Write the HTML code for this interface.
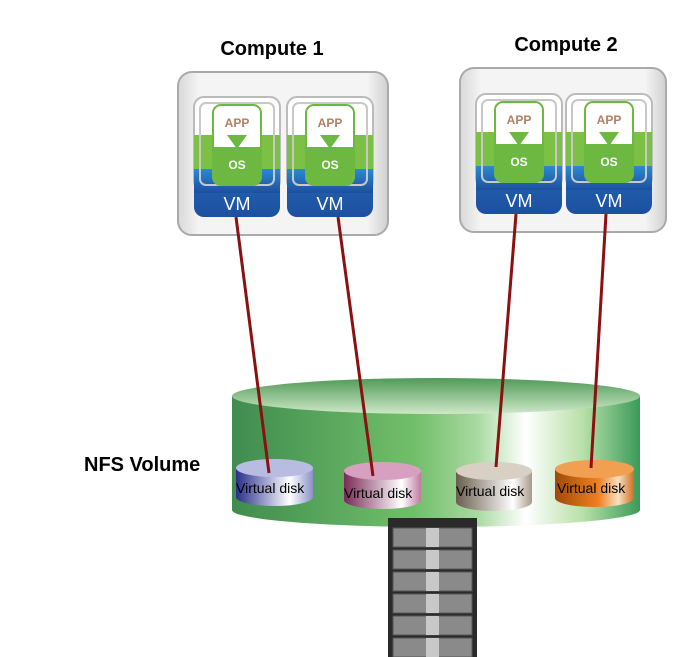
<!DOCTYPE html>
<html><head><style>body{margin:0;background:#fff}svg{display:block}</style></head><body>
<svg width="682" height="657" viewBox="0 0 682 657" xmlns="http://www.w3.org/2000/svg" font-family="Liberation Sans, sans-serif">
<defs>
<linearGradient id="box" x1="0" y1="0" x2="1" y2="0"><stop offset="0" stop-color="#d8d8d8"/><stop offset=".1" stop-color="#f4f4f4"/><stop offset=".9" stop-color="#f4f4f4"/><stop offset="1" stop-color="#d0d0d0"/></linearGradient>
<linearGradient id="vm" x1="0" y1="0" x2="0" y2="1"><stop offset="0" stop-color="#2a8ad0"/><stop offset="1" stop-color="#1d4fa0"/></linearGradient>
<linearGradient id="nfs" x1="0" y1="0" x2="1" y2="0"><stop offset="0" stop-color="#3f8c4f"/><stop offset=".45" stop-color="#72bf6a"/><stop offset=".6" stop-color="#a8d9a0"/><stop offset=".72" stop-color="#ffffff"/><stop offset=".86" stop-color="#b8e0a8"/><stop offset="1" stop-color="#3a9a5a"/></linearGradient>
<linearGradient id="nfstop" x1="0" y1="0" x2="0" y2="1"><stop offset="0" stop-color="#4f9a58"/><stop offset="1" stop-color="#cfe8c8"/></linearGradient>
<linearGradient id="d1" x1="0" y1="0" x2="1" y2="0"><stop offset="0" stop-color="#2a2f8a"/><stop offset=".7" stop-color="#ffffff"/><stop offset="1" stop-color="#8a90c8"/></linearGradient>
<linearGradient id="d2" x1="0" y1="0" x2="1" y2="0"><stop offset="0" stop-color="#7a2a58"/><stop offset=".75" stop-color="#ffffff"/><stop offset="1" stop-color="#c07aa0"/></linearGradient>
<linearGradient id="d3" x1="0" y1="0" x2="1" y2="0"><stop offset="0" stop-color="#6a5e4e"/><stop offset=".75" stop-color="#ffffff"/><stop offset="1" stop-color="#a89a88"/></linearGradient>
<linearGradient id="d4" x1="0" y1="0" x2="1" y2="0"><stop offset="0" stop-color="#a04a08"/><stop offset=".55" stop-color="#f08020"/><stop offset=".8" stop-color="#f8e0c0"/><stop offset="1" stop-color="#d07020"/></linearGradient>
<g id="vmod">
<rect x="0" y="0" width="86" height="120" rx="10" fill="url(#vm)"/>
<rect x="0" y="0" width="86" height="94" rx="10" fill="#fff" stroke="#bbb" stroke-width="2"/>
<rect x="0" y="38" width="86" height="34" fill="#7cc046"/>
<rect x="0" y="72" width="86" height="24" fill="url(#vm)"/>
<rect x="6" y="6" width="74" height="82" rx="6" fill="none" stroke="#c8c8c8" stroke-width="2"/>
<rect x="19" y="8" width="48" height="80" rx="8" fill="#fff" stroke="#6cb840" stroke-width="2"/>
<path d="M20 50 H66 V80 Q66 88 58 88 H28 Q20 88 20 80Z" fill="#6cb840"/>
<path d="M33 38 H53 L43 52Z" fill="#6cb840"/>
<text x="43" y="30" font-size="12" font-weight="bold" fill="#b08060" text-anchor="middle">APP</text>
<text x="43" y="72" font-size="12" font-weight="bold" fill="#fff" text-anchor="middle">OS</text>
<text x="43" y="113" font-size="18" fill="#fff" text-anchor="middle">VM</text>
</g>
</defs>
<text x="272" y="55" font-size="20" font-weight="bold" text-anchor="middle">Compute 1</text>
<text x="566" y="51" font-size="20" font-weight="bold" text-anchor="middle">Compute 2</text>
<rect x="178" y="72" width="210" height="163" rx="14" fill="url(#box)" stroke="#aaa" stroke-width="2"/>
<rect x="460" y="68" width="206" height="164" rx="14" fill="url(#box)" stroke="#aaa" stroke-width="2"/>
<use href="#vmod" x="194" y="97"/>
<use href="#vmod" x="287" y="97"/>
<use href="#vmod" x="476" y="94"/>
<use href="#vmod" x="566" y="94"/>
<!-- NFS -->
<path d="M232 396 V510 A204 17 0 0 0 640 510 V396Z" fill="url(#nfs)"/>
<ellipse cx="436" cy="396" rx="204" ry="18" fill="url(#nfstop)"/>
<text x="84" y="471" font-size="20" font-weight="bold">NFS Volume</text>
<g font-size="14" fill="#000">
<path d="M236 468 V497 A38.5 9 0 0 0 313 497 V468Z" fill="url(#d1)"/><ellipse cx="274.5" cy="468" rx="38.5" ry="9" fill="#b8bce0"/>
<text x="236" y="493">Virtual disk</text>
<path d="M344 471 V500 A38.5 9 0 0 0 421 500 V471Z" fill="url(#d2)"/><ellipse cx="382.5" cy="471" rx="38.5" ry="9" fill="#d8a0c0"/>
<text x="344" y="498">Virtual disk</text>
<path d="M456 471 V502 A38 9 0 0 0 532 502 V471Z" fill="url(#d3)"/><ellipse cx="494" cy="471" rx="38" ry="9" fill="#d8d0c4"/>
<text x="456" y="496">Virtual disk</text>
<path d="M555 469 V498 A39.5 9 0 0 0 634 498 V469Z" fill="url(#d4)"/><ellipse cx="594.5" cy="469" rx="39.5" ry="9" fill="#f0a050"/>
<text x="557" y="493">Virtual disk</text>
</g>
<g stroke="#8b1010" stroke-width="3">
<line x1="236" y1="217" x2="269" y2="473"/>
<line x1="338" y1="217" x2="373" y2="476"/>
<line x1="516" y1="214" x2="496" y2="467"/>
<line x1="606" y1="214" x2="591" y2="468"/>
</g>
<!-- rack -->
<rect x="388" y="518" width="89" height="139" fill="#2a2a2a"/>
<g fill="#8a8a8a" stroke="#555" stroke-width="1">
<rect x="393" y="528" width="79" height="19"/><rect x="393" y="550" width="79" height="19"/><rect x="393" y="572" width="79" height="19"/><rect x="393" y="594" width="79" height="19"/><rect x="393" y="616" width="79" height="19"/><rect x="393" y="638" width="79" height="19"/>
</g>
<g fill="#c8c8c8">
<rect x="426" y="528" width="13" height="19"/><rect x="426" y="550" width="13" height="19"/><rect x="426" y="572" width="13" height="19"/><rect x="426" y="594" width="13" height="19"/><rect x="426" y="616" width="13" height="19"/><rect x="426" y="638" width="13" height="19"/>
</g>
</svg>
</body></html>
